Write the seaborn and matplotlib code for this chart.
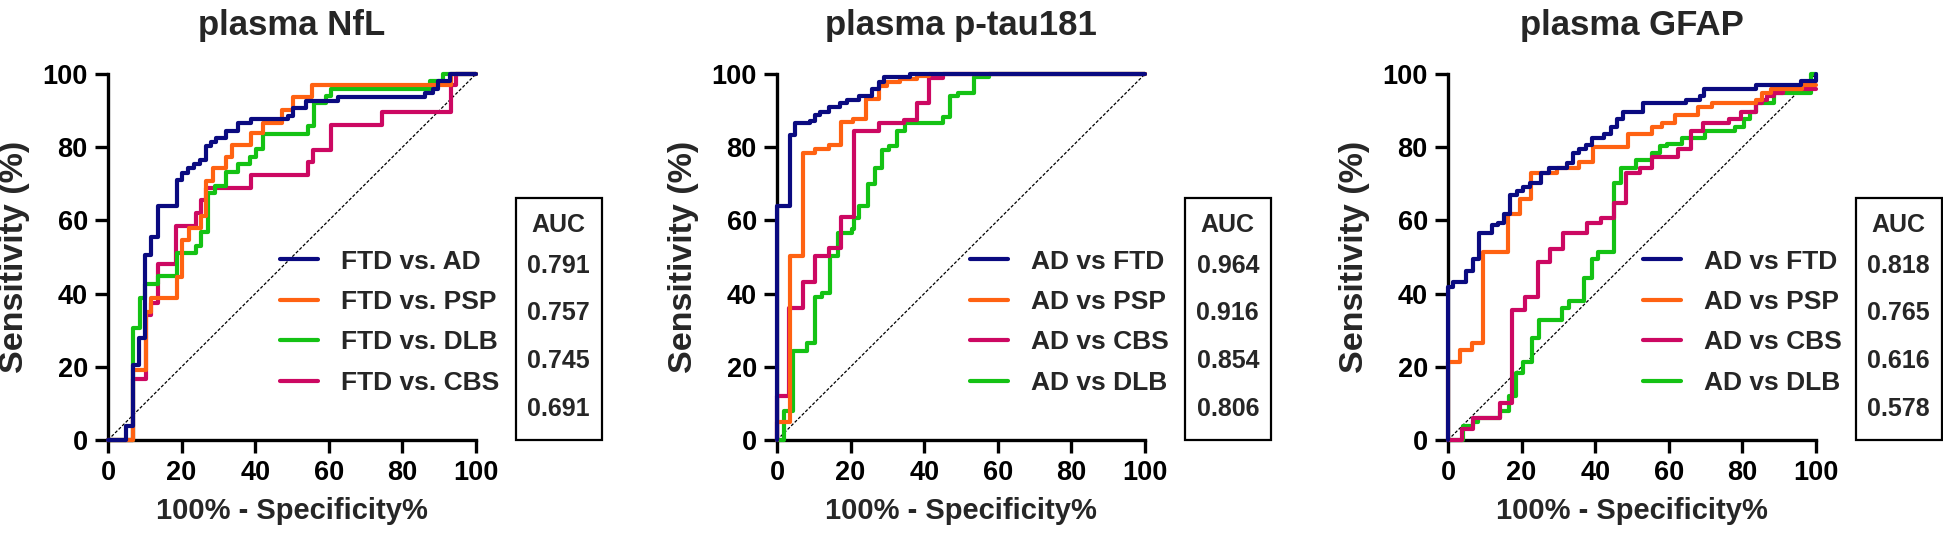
import numpy as np
import pandas as pd
import seaborn as sns
import matplotlib.pyplot as plt
from matplotlib.lines import Line2D
from matplotlib.patches import Rectangle

# ---- data (fpr %, tpr %) ----
nfl_ad_x = [0, 5, 6.8, 8.4, 10, 11.8, 13.6, 18.7, 20.2, 21.7, 23.5, 25, 26.7, 28, 29.4, 32, 35.3, 38.9, 48.9, 50.2, 53.8, 62.4, 86.2, 88.2, 89.6, 92.8, 100]
nfl_ad_y = [0, 3.8, 20.5, 27.8, 50.5, 55.6, 64, 71, 73, 74.2, 75.4, 76.5, 80.3, 81.5, 82.4, 84.5, 86.7, 87.6, 88.5, 90.6, 92.7, 93.8, 94.9, 96, 98.2, 100, 100]
nfl_psp_x = [0, 6.8, 10.2, 11.8, 18.7, 20.2, 22, 25.3, 26.7, 28.5, 32.1, 33.8, 38.9, 42.1, 47.3, 50.4, 55.5, 93.2, 100]
nfl_psp_y = [0, 19, 35, 38.7, 44.6, 54.6, 58, 61.2, 70.9, 74.2, 77.4, 80.6, 84, 86.7, 90.3, 93.6, 97, 100, 100]
nfl_dlb_x = [0, 6.8, 8.6, 10, 13.6, 18.7, 24, 25.3, 27.1, 29, 32.1, 35.3, 38.5, 40.1, 42.1, 54.3, 56.1, 59.3, 60.6, 87.6, 90.9, 100]
nfl_dlb_y = [0, 30.5, 38.7, 42.6, 44.8, 51, 53, 56.9, 67.4, 69.4, 73.3, 75.4, 77.4, 79.4, 83.6, 85.8, 92, 94, 95.8, 98.2, 100, 100]
nfl_cbs_x = [0, 6.8, 10.4, 11.8, 13.6, 18.5, 23.8, 25.3, 26.7, 38.9, 54.3, 55.7, 60.6, 74.5, 93.2, 94.6, 100]
nfl_cbs_y = [0, 16.8, 34.2, 37.5, 48.1, 58.6, 61.9, 65.6, 68.8, 72.4, 76, 79.2, 86.1, 89.5, 97, 100, 100]

tau_ftd_x = [0, 0, 3.4, 3.6, 5, 8.9, 10.4, 11.8, 14, 17.2, 19, 22.4, 25.8, 27.6, 29.1, 36.2, 100]
tau_ftd_y = [0, 63.8, 64.7, 83.3, 86.5, 87.2, 88.8, 89.7, 90.9, 92, 92.9, 94, 95.8, 97.9, 99.1, 100, 100]
tau_psp_x = [0, 0, 3.6, 7.1, 10.4, 14, 17.4, 20.6, 24.3, 27.6, 29.9, 33.5, 38, 41.2, 100]
tau_psp_y = [0, 5, 50.3, 78.3, 79.4, 80.6, 87, 87.6, 93.1, 96.7, 97.9, 98.6, 99.5, 100, 100]
tau_cbs_x = [0, 0, 3.2, 7.1, 10.4, 14, 17.4, 20.8, 27.6, 34.4, 38, 41.4, 45.1, 100]
tau_cbs_y = [0, 12, 36, 43.3, 50.3, 52.4, 60.8, 84.5, 86.7, 87.4, 92, 98.8, 100, 100]
tau_dlb_x = [0, 1.8, 4.3, 8.1, 10.4, 12.2, 14.5, 16.5, 20.4, 20.8, 22.4, 24.6, 26.7, 28.5, 30.3, 32.6, 34.8, 45.1, 47.1, 49.3, 53.4, 57.5, 100]
tau_dlb_y = [0, 8, 24.4, 26.4, 39.2, 40.1, 50.3, 56.6, 57.6, 60.6, 63.9, 69.9, 74.2, 79.2, 80.3, 84.5, 86.7, 88.3, 94, 94.9, 99.1, 100, 100]

gfap_ftd_x = [0, 0, 1.4, 5, 6.8, 8.5, 11.9, 13.7, 15.3, 16.9, 18.7, 20.5, 22.4, 25.3, 27.4, 32.4, 34.1, 35.6, 37.4, 39, 42.5, 44.3, 45.9, 47.5, 53, 64.8, 68.5, 69.7, 83.6, 95.9, 100]
gfap_ftd_y = [0, 41.9, 43.3, 46.3, 49.4, 56.6, 58.7, 59.4, 61.7, 66.9, 68.1, 69.2, 70.3, 73, 74.2, 75.6, 78.3, 79.4, 80.6, 82.4, 83.6, 85.6, 87.6, 89.7, 92, 92.9, 94, 95.8, 97, 98.2, 100]
gfap_psp_x = [0, 0, 3.2, 6.4, 9.6, 16.2, 19.5, 22.6, 29.5, 35.6, 39.3, 48.9, 55.3, 58.2, 61.6, 68, 71.7, 83.6, 85.4, 87.7, 96.3, 100]
gfap_psp_y = [0, 21.4, 24.6, 26.6, 51.5, 61.7, 65.8, 73, 74.2, 76, 80.1, 83.6, 85.6, 86.7, 88.8, 90.9, 92, 92.9, 94.7, 95.8, 97, 97]
gfap_cbs_x = [0, 3.7, 6.8, 14, 17.4, 21, 24.4, 27.7, 31.3, 37.9, 41.6, 45.2, 48.4, 52.1, 55.4, 62.6, 66, 69.4, 76.3, 79.7, 83.6, 85.4, 86.8, 88.6, 90.9, 100]
gfap_cbs_y = [0, 2.9, 5.9, 10.2, 35.5, 39, 48.5, 52.1, 56.6, 59.4, 60.6, 64.8, 73, 74.2, 77.2, 79.4, 84.5, 86.7, 87.6, 89.7, 92, 92.9, 94, 94.9, 95.8, 95.8]
gfap_dlb_x = [0, 4.1, 6.8, 8.2, 14, 16.7, 18.5, 20.5, 22.8, 24.7, 31, 32.9, 37, 39, 40.8, 45.2, 47, 51.1, 55.3, 57.5, 59.6, 63.5, 69.9, 78.1, 80.4, 82.2, 83.6, 88.6, 98.6, 100]
gfap_dlb_y = [0, 3.8, 5, 5.9, 8, 12, 18.2, 21.4, 27.8, 32.8, 36, 38.1, 44.2, 49.4, 51.5, 70.1, 74.2, 76.5, 78.3, 80.3, 81, 82.4, 84.5, 85.6, 87.6, 89.7, 92, 94.7, 100, 100]

titles = ["plasma NfL", "plasma p-tau181", "plasma GFAP"]
nfl_labels = ["FTD vs. AD", "FTD vs. PSP", "FTD vs. DLB", "FTD vs. CBS"]
tau_labels = ["AD vs FTD", "AD vs PSP", "AD vs CBS", "AD vs DLB"]
gfap_labels = ["AD vs FTD", "AD vs PSP", "AD vs CBS", "AD vs DLB"]
nfl_auc = ["0.791", "0.757", "0.745", "0.691"]
tau_auc = ["0.964", "0.916", "0.854", "0.806"]
gfap_auc = ["0.818", "0.765", "0.616", "0.578"]

NAVY, ORANGE, GREEN, MAGENTA = "#0a0a80", "#ff6212", "#14c214", "#cc0862"

panels = [
    (titles[0], nfl_labels, nfl_auc, [(nfl_ad_x, nfl_ad_y), (nfl_psp_x, nfl_psp_y), (nfl_dlb_x, nfl_dlb_y), (nfl_cbs_x, nfl_cbs_y)],
     [NAVY, ORANGE, GREEN, MAGENTA], 0.467),
    (titles[1], tau_labels, tau_auc, [(tau_ftd_x, tau_ftd_y), (tau_psp_x, tau_psp_y), (tau_cbs_x, tau_cbs_y), (tau_dlb_x, tau_dlb_y)],
     [NAVY, ORANGE, MAGENTA, GREEN], 0.525),
    (titles[2], gfap_labels, gfap_auc, [(gfap_ftd_x, gfap_ftd_y), (gfap_psp_x, gfap_psp_y), (gfap_cbs_x, gfap_cbs_y), (gfap_dlb_x, gfap_dlb_y)],
     [NAVY, ORANGE, MAGENTA, GREEN], 0.53),
]

sns.set_style("ticks")
plt.rcParams["font.family"] = ["Liberation Sans", "DejaVu Sans"]
plt.rcParams["font.weight"] = "bold"

fig = plt.figure(figsize=(19.43, 5.40), dpi=100)
lefts = [108 / 1943, 777 / 1943, 1448 / 1943]

for left, (title, labels, aucs, curves, colors, leg_x) in zip(lefts, panels):
    ax = fig.add_axes([left, 100 / 540, 368 / 1943, 366 / 540])

    # diagonal reference
    ax.plot([0, 100], [0, 100], color="black", lw=0.9, ls=(0, (2.5, 1.5)), zorder=1)

    frames = []
    for lab, (xs, ys) in zip(labels, curves):
        frames.append(pd.DataFrame({"fpr": xs, "tpr": ys, "curve": lab}))
    df = pd.concat(frames, ignore_index=True)
    # draw last-listed first so the first curve sits on top
    pal = dict(zip(labels, colors))
    for lab in labels[::-1]:
        sns.lineplot(data=df[df["curve"] == lab], x="fpr", y="tpr", color=pal[lab],
                     sort=False, estimator=None, drawstyle="steps-post", lw=3.0,
                     ax=ax, legend=False, clip_on=False, zorder=3)

    ax.set_xlim(0, 100)
    ax.set_ylim(0, 100)
    ax.set_xticks(np.arange(0, 101, 20))
    ax.set_yticks(np.arange(0, 101, 20))
    sns.despine(ax=ax)
    for s in ["left", "bottom"]:
        ax.spines[s].set_linewidth(2.4)
        ax.spines[s].set_color("black")
    ax.tick_params(length=9.5, width=2.4, labelsize=19.5, pad=5, colors="black")
    for t in ax.get_xticklabels() + ax.get_yticklabels():
        t.set_fontweight("bold")
    ax.set_xlabel("100% - Specificity%", fontsize=21, fontweight="bold", labelpad=8)
    ax.set_ylabel("Sensitivity (%)", fontsize=24.5, fontweight="bold", labelpad=9)
    ax.set_title(title, fontsize=25, fontweight="bold", pad=28)

    handles = [Line2D([], [], color=c, lw=3.0) for c in colors]
    ax.legend(handles, labels, loc="upper left", bbox_to_anchor=(leg_x, 0.52),
              frameon=False, handlelength=1.45, handletextpad=0.85,
              labelspacing=0.62, borderpad=0, borderaxespad=0,
              prop={"weight": "bold", "size": 19})

    # AUC box
    ax.add_patch(Rectangle((110.8, 0), 23.5, 66, fill=False, lw=1.6, ec="black",
                           clip_on=False, transform=ax.transData))
    ax.text(122.5, 58.7, "AUC", ha="center", va="center", fontsize=18,
            fontweight="bold", clip_on=False)
    for yy, v in zip([47.6, 34.6, 21.6, 8.5], aucs):
        ax.text(122.5, yy, v, ha="center", va="center", fontsize=18,
                fontweight="bold", clip_on=False)

fig.savefig("out.png", dpi=100)
